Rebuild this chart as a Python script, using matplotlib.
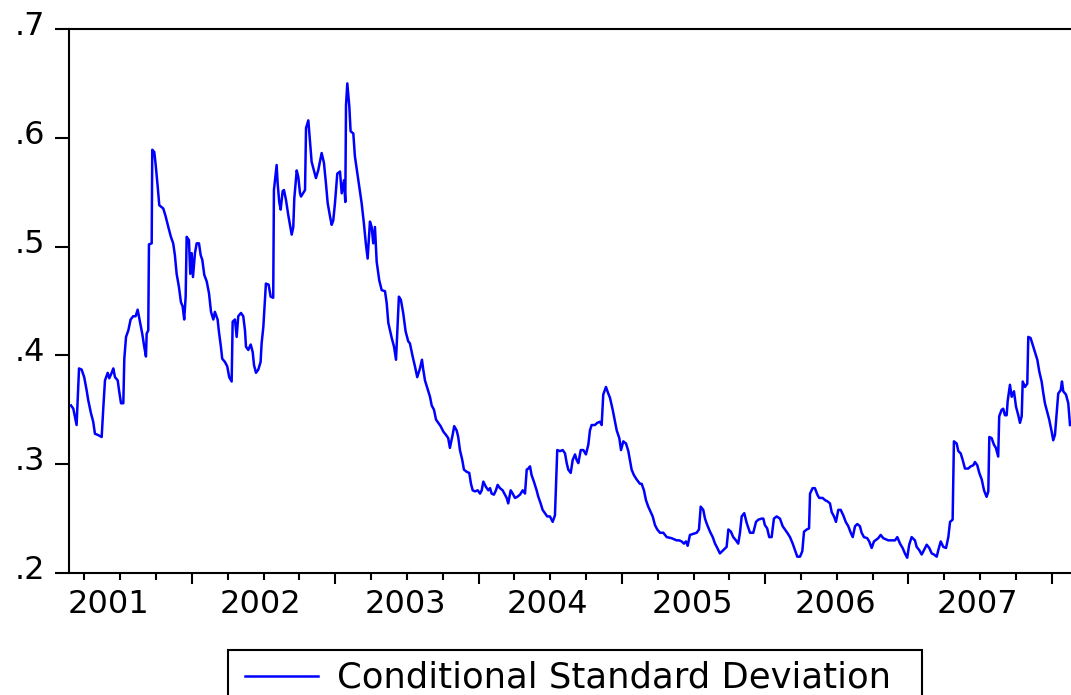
import numpy as np
import matplotlib
matplotlib.use("Agg")
import matplotlib.pyplot as plt
import matplotlib.transforms as mtransforms
from matplotlib.patches import Rectangle
from matplotlib.ticker import FixedLocator, FuncFormatter

# conditional standard deviation (decimal years)
t_2001 = [2001.156, 2001.172, 2001.195, 2001.212, 2001.230, 2001.248, 2001.265, 2001.276, 2001.295, 2001.311,
          2001.323, 2001.342, 2001.370, 2001.381, 2001.393, 2001.412, 2001.423, 2001.440, 2001.451, 2001.463,
          2001.482, 2001.491, 2001.505, 2001.521, 2001.528, 2001.540, 2001.556, 2001.572, 2001.590, 2001.607,
          2001.621, 2001.637, 2001.653, 2001.667, 2001.679, 2001.684, 2001.695, 2001.700, 2001.719, 2001.723,
          2001.737, 2001.747, 2001.761, 2001.772, 2001.800, 2001.816, 2001.835, 2001.853, 2001.869, 2001.881,
          2001.893, 2001.909, 2001.923, 2001.935, 2001.946, 2001.956, 2001.963, 2001.979, 2001.988, 2001.998]
v_2001 = [.354, .351, .336, .388, .387, .380, .368, .359, .347, .339,
          .328, .327, .325, .351, .377, .384, .379, .384, .388, .380,
          .377, .368, .356, .356, .397, .417, .423, .433, .436, .436,
          .442, .431, .420, .408, .399, .420, .423, .502, .503, .589,
          .587, .575, .555, .538, .535, .528, .518, .509, .503, .492,
          .475, .463, .449, .445, .433, .454, .509, .506, .475, .494]

t_2002 = [2002.007, 2002.021, 2002.033, 2002.049, 2002.061, 2002.072, 2002.086, 2002.103, 2002.119, 2002.133,
          2002.149, 2002.160, 2002.179, 2002.188, 2002.202, 2002.211, 2002.230, 2002.246, 2002.260, 2002.277,
          2002.284, 2002.300, 2002.312, 2002.323, 2002.342, 2002.358,
          2002.370, 2002.377, 2002.393, 2002.410, 2002.424, 2002.433, 2002.447, 2002.463, 2002.479, 2002.486,
          2002.498, 2002.516, 2002.535, 2002.549, 2002.567, 2002.572, 2002.591, 2002.598, 2002.609, 2002.619,
          2002.633, 2002.642, 2002.656, 2002.672, 2002.684, 2002.696, 2002.707, 2002.714, 2002.731, 2002.742,
          2002.754, 2002.761, 2002.789, 2002.796, 2002.812, 2002.823, 2002.835, 2002.851, 2002.865, 2002.881,
          2002.893, 2002.905, 2002.921, 2002.935, 2002.947, 2002.963, 2002.975, 2002.986, 2002.998]
v_2002 = [.472, .494, .503, .503, .492, .488, .474, .468, .457, .440,
          .433, .440, .433, .422, .408, .397, .394, .390, .380, .376,
          .431, .433, .417, .436, .439, .436,
          .423, .408, .405, .410, .403, .391, .384, .387, .394, .411,
          .426, .466, .465, .454, .453, .552, .575, .558, .541, .534,
          .551, .552, .543, .529, .520, .511, .518, .544, .570, .564,
          .549, .546, .552, .609, .616, .598, .578, .570, .563, .570,
          .578, .586, .577, .558, .540, .528, .520, .524, .540]

t_2003 = [2003.014, 2003.033, 2003.045, 2003.061, 2003.070, 2003.075, 2003.084, 2003.098, 2003.107, 2003.126,
          2003.137, 2003.149, 2003.165, 2003.184, 2003.200, 2003.214, 2003.226, 2003.242, 2003.254, 2003.265,
          2003.277, 2003.289, 2003.307, 2003.324, 2003.347, 2003.359, 2003.370, 2003.394, 2003.410, 2003.424,
          2003.433, 2003.444, 2003.458, 2003.474, 2003.491, 2003.509,
          2003.521, 2003.540, 2003.556, 2003.572, 2003.591, 2003.605, 2003.614, 2003.626, 2003.642, 2003.661,
          2003.673, 2003.689, 2003.703, 2003.719, 2003.735, 2003.754, 2003.772, 2003.788, 2003.800, 2003.819,
          2003.830, 2003.847, 2003.858, 2003.870, 2003.886, 2003.898, 2003.917, 2003.935, 2003.947, 2003.959,
          2003.975, 2003.994]
v_2003 = [.567, .569, .549, .561, .541, .630, .650, .629, .606, .604,
          .583, .572, .558, .540, .521, .502, .489, .523, .518, .503,
          .518, .486, .469, .460, .459, .448, .430, .416, .408, .396,
          .423, .454, .451, .439, .422, .413,
          .411, .399, .390, .380, .388, .396, .387, .377, .370, .362,
          .354, .350, .341, .338, .335, .330, .327, .324, .315, .327,
          .335, .331, .325, .313, .304, .295, .293, .292, .282, .276,
          .275, .276]

t_2004 = [2004.010, 2004.022, 2004.033, 2004.052, 2004.068, 2004.080, 2004.091, 2004.107, 2004.121, 2004.133,
          2004.149, 2004.168, 2004.184, 2004.196, 2004.207, 2004.224, 2004.238, 2004.254, 2004.270, 2004.289,
          2004.308, 2004.324, 2004.336, 2004.347, 2004.359, 2004.370, 2004.386, 2004.405, 2004.417, 2004.433,
          2004.447, 2004.463, 2004.479, 2004.498, 2004.517, 2004.533, 2004.549, 2004.568, 2004.587, 2004.603,
          2004.615, 2004.626, 2004.643, 2004.657, 2004.673, 2004.684, 2004.696, 2004.713, 2004.731, 2004.749,
          2004.766, 2004.777, 2004.789, 2004.812, 2004.828, 2004.847, 2004.859, 2004.870, 2004.889, 2004.905,
          2004.917, 2004.936, 2004.952, 2004.964, 2004.982, 2004.994]
v_2004 = [.273, .276, .284, .279, .276, .278, .273, .272, .276, .281,
          .278, .276, .272, .269, .264, .276, .273, .269, .270, .272,
          .276, .273, .295, .296, .298, .290, .284, .276, .270, .264,
          .258, .255, .252, .252, .247, .253, .313, .312, .313, .310,
          .301, .295, .292, .304, .309, .304, .301, .313, .313, .309,
          .318, .331, .336, .336, .338, .339, .336, .364, .371, .365,
          .361, .350, .339, .331, .324, .313]

t_2005 = [2005.010, 2005.029, 2005.045, 2005.056, 2005.068, 2005.084, 2005.103, 2005.126, 2005.138, 2005.154,
          2005.168, 2005.184, 2005.201, 2005.215, 2005.231, 2005.247, 2005.266, 2005.289, 2005.313, 2005.347,
          2005.382, 2005.400, 2005.417, 2005.433, 2005.447, 2005.459, 2005.475, 2005.498, 2005.522, 2005.538,
          2005.550, 2005.568, 2005.580, 2005.596, 2005.615, 2005.634, 2005.650, 2005.666, 2005.684, 2005.708,
          2005.731, 2005.743, 2005.761, 2005.777, 2005.796, 2005.812, 2005.824, 2005.836, 2005.854, 2005.871,
          2005.894, 2005.917, 2005.936, 2005.952, 2005.975, 2005.987, 2005.998]
v_2005 = [.321, .319, .312, .304, .295, .290, .286, .282, .282, .276,
          .267, .261, .256, .252, .244, .240, .237, .237, .233, .232,
          .230, .230, .229, .227, .229, .225, .235, .236, .237, .240,
          .261, .258, .250, .244, .238, .233, .227, .223, .218, .221,
          .224, .240, .238, .233, .230, .227, .237, .252, .255, .246,
          .237, .237, .247, .249, .250, .250, .244]

t_2006 = [2006.014, 2006.028, 2006.045, 2006.061, 2006.080, 2006.103, 2006.122, 2006.138, 2006.154, 2006.173,
          2006.192, 2006.208, 2006.224, 2006.243, 2006.259, 2006.271, 2006.290, 2006.306, 2006.313, 2006.331,
          2006.347, 2006.364, 2006.377, 2006.401, 2006.417, 2006.433, 2006.452, 2006.464, 2006.480, 2006.494,
          2006.510, 2006.527, 2006.545, 2006.562, 2006.580, 2006.597, 2006.611, 2006.627, 2006.643, 2006.661,
          2006.673, 2006.689, 2006.712, 2006.726, 2006.743, 2006.759, 2006.789, 2006.806, 2006.824, 2006.859,
          2006.906, 2006.922, 2006.941, 2006.959, 2006.975, 2006.991]
v_2006 = [.241, .233, .233, .250, .252, .250, .243, .240, .237, .233,
          .227, .221, .215, .215, .220, .238, .240, .241, .273, .278,
          .278, .272, .269, .269, .267, .266, .264, .256, .252, .247,
          .258, .258, .253, .247, .243, .237, .233, .243, .245, .243,
          .237, .233, .232, .229, .223, .229, .232, .235, .232, .230,
          .230, .233, .227, .223, .218, .214]

t_2007 = [2007.005, 2007.022, 2007.045, 2007.057, 2007.075, 2007.092, 2007.108, 2007.127, 2007.145, 2007.162,
          2007.178, 2007.197, 2007.208, 2007.225, 2007.243, 2007.262, 2007.278, 2007.290, 2007.308, 2007.317,
          2007.336, 2007.348, 2007.364, 2007.378, 2007.394, 2007.417, 2007.434, 2007.452, 2007.464, 2007.480,
          2007.494, 2007.511, 2007.527, 2007.545, 2007.557, 2007.564, 2007.580, 2007.596, 2007.610, 2007.626,
          2007.633, 2007.650, 2007.661, 2007.673, 2007.685, 2007.692, 2007.708, 2007.720, 2007.736, 2007.750,
          2007.766, 2007.778, 2007.790, 2007.797, 2007.813, 2007.829, 2007.836, 2007.852, 2007.866, 2007.883,
          2007.899, 2007.913, 2007.929, 2007.941, 2007.952, 2007.968, 2007.982, 2007.999,
          2008.010, 2008.022, 2008.034, 2008.045, 2008.062, 2008.071, 2008.080, 2008.099, 2008.115, 2008.127]
v_2007 = [.226, .233, .230, .224, .221, .217, .221, .226, .223, .218,
          .217, .215, .221, .229, .224, .223, .233, .247, .249, .321,
          .319, .312, .310, .304, .296, .296, .298, .299, .302, .299,
          .292, .286, .276, .270, .275, .325, .324, .318, .315, .307,
          .344, .350, .351, .345, .345, .358, .373, .362, .367, .353,
          .345, .338, .344, .376, .371, .374, .417, .416, .410, .403,
          .396, .385, .376, .365, .356, .348, .341, .330,
          .322, .327, .347, .365, .368, .376, .367, .364, .356, .336]

year_labels = ["2001", "2002", "2003", "2004", "2005", "2006", "2007"]
label_pos = [2001.42, 2002.48, 2003.49, 2004.48, 2005.49, 2006.49, 2007.48]
y_ticks = [0.2, 0.3, 0.4, 0.5, 0.6, 0.7]
series_name = "Conditional Standard Deviation"

t = np.concatenate([t_2001, t_2002, t_2003, t_2004, t_2005, t_2006, t_2007])
v = np.concatenate([v_2001, v_2002, v_2003, v_2004, v_2005, v_2006, v_2007])

W, H = 1071, 695
fig = plt.figure(figsize=(W / 100, H / 100), dpi=100)
ax = fig.add_axes([69 / W, (H - 573) / H, (W - 69) / W, (573 - 29) / H])

line, = ax.plot(t, v, color="#0000ff", lw=1.8, label=series_name)

ax.set_xlim(2001.142, 2008.134)
ax.set_ylim(0.2, 0.7)

for side in ["left", "top", "bottom"]:
    ax.spines[side].set_linewidth(1.5)
    ax.spines[side].set_color("black")
ax.spines["right"].set_visible(False)

ax.yaxis.set_major_locator(FixedLocator(y_ticks))
ax.yaxis.set_major_formatter(FuncFormatter(lambda val, pos: f"{val:.1f}".lstrip("0")))
ax.tick_params(axis="y", length=10, width=1.5, pad=7, labelsize=23, direction="out")
shift = mtransforms.ScaledTranslation(0, 6 / 100, fig.dpi_scale_trans)
for lab in ax.get_yticklabels():
    lab.set_transform(lab.get_transform() + shift)

ax.xaxis.set_major_locator(FixedLocator(np.arange(2002, 2009)))
ax.xaxis.set_minor_locator(FixedLocator([y + q for y in range(2001, 2009) for q in (0.25, 0.5, 0.75)]))
ax.tick_params(axis="x", which="major", length=8, width=1.5, labelbottom=False, direction="out")
ax.tick_params(axis="x", which="minor", length=5, width=1.5, labelbottom=False, direction="out")

for lab, pos in zip(year_labels, label_pos):
    ax.annotate(lab, xy=(pos, 0), xycoords=("data", "axes fraction"),
                xytext=(0, -29), textcoords="offset points",
                ha="center", va="baseline", fontsize=23)

# legend box runs off the bottom of the picture, so draw the frame separately
leg = fig.legend(handles=[line], loc="upper left", bbox_to_anchor=(245 / W, (H - 661) / H),
                 fontsize=25.5, frameon=False, handlelength=2.06, handletextpad=0.54,
                 borderpad=0, borderaxespad=0)
leg.get_lines()[0].set_linewidth(1.8)
fig.patches.append(Rectangle((228 / W, -0.05), (922 - 228) / W, (H - 650) / H + 0.05,
                             transform=fig.transFigure, fill=False, lw=1.5, ec="black"))

fig.savefig("out.png", dpi=100)
